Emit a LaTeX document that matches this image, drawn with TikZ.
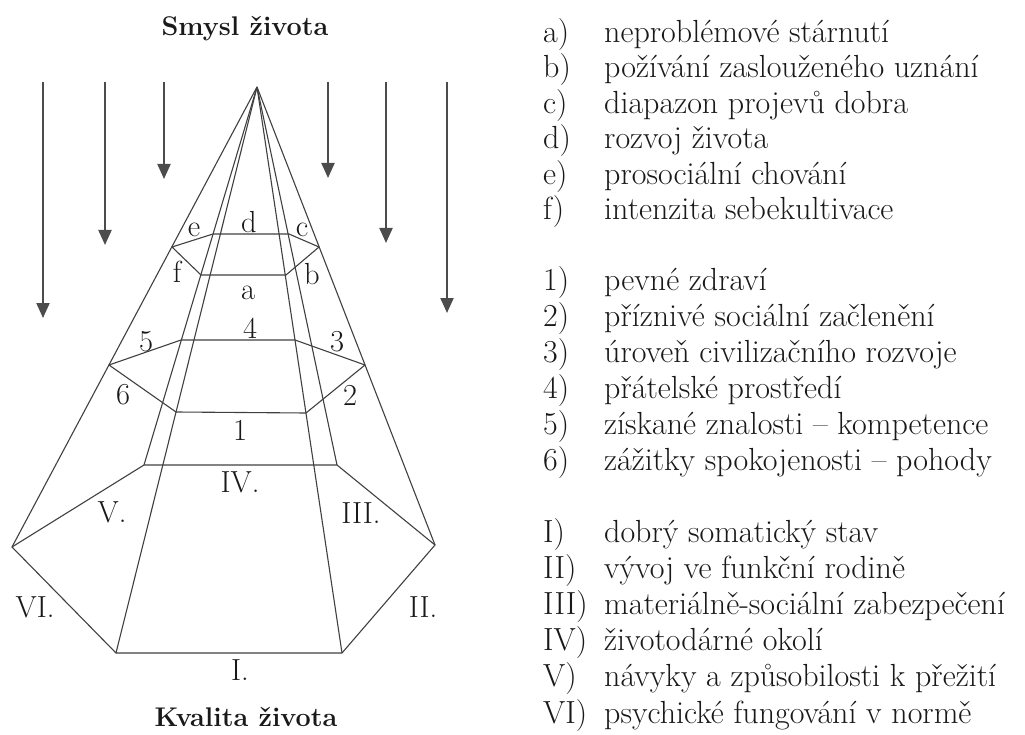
\documentclass[tikz,border=0pt]{standalone}
\usepackage{tikz}
\usetikzlibrary{arrows.meta}
\begin{document}
\begin{tikzpicture}[
    x=1pt, y=-1pt,
    edge/.style={draw=black!75, line width=1.1pt, line join=round},
    flow/.style={draw=black!70, line width=2pt, -{Triangle[width=13pt,length=15pt]}},
    lbl/.style={inner sep=0pt, text=black!90, font=\fontsize{30.5}{34}\selectfont},
    title/.style={inner sep=0pt, text=black!90, font=\fontsize{27}{30}\selectfont\bfseries},
    item/.style={inner sep=0pt, anchor=base west, text=black!90, font=\fontsize{32}{36}\selectfont}
]
    \useasboundingbox (0,0) rectangle (1025,735);

    % Titles
    \node[title] (smysl) at (245,29) {Smysl života};
    \node[title] (kvalita) at (246,717) {Kvalita života};

    % Arrows from above
    \foreach \x/\y [count=\i] in {43/318, 105/245, 164/179, 328/178, 386/243, 447/313} {
        \coordinate (top\i) at (\x,82);
        \coordinate (tip\i) at (\x,\y);
        \draw[flow] (top\i) -- (tip\i);
    }

    % Apex and the three levels
    \coordinate (apex) at (257,87);

    \coordinate (h1l)  at (172,247);
    \coordinate (h1ul) at (213,234);
    \coordinate (h1ur) at (289,234);
    \coordinate (h1r)  at (319,247);
    \coordinate (h1lr) at (286,275);
    \coordinate (h1ll) at (201,275);

    \coordinate (h2l)  at (109,365);
    \coordinate (h2ul) at (181,340);
    \coordinate (h2ur) at (295,340);
    \coordinate (h2r)  at (365,365);
    \coordinate (h2lr) at (306,413);
    \coordinate (h2ll) at (176,412);

    \coordinate (h3l)  at (12,547);
    \coordinate (h3ul) at (144,465);
    \coordinate (h3ur) at (337,465);
    \coordinate (h3r)  at (435,545);
    \coordinate (h3lr) at (342,653);
    \coordinate (h3ll) at (116,653);

    % Edges from the apex
    \foreach \v in {h3l, h3ul, h3ll, h3lr, h3ur, h3r}
        \draw[edge] (apex) -- (\v);

    % Hexagons
    \draw[edge] (h1l) -- (h1ul) -- (h1ur) -- (h1r) -- (h1lr) -- (h1ll) -- cycle;
    \draw[edge] (h2l) -- (h2ul) -- (h2ur) -- (h2r) -- (h2lr) -- (h2ll) -- cycle;
    \draw[edge] (h3l) -- (h3ul) -- (h3ur) -- (h3r) -- (h3lr) -- (h3ll) -- cycle;

    % Labels in the pyramid
    \node[lbl] (le) at (194,230) {e};
    \node[lbl] (ld) at (249,222) {d};
    \node[lbl] (lc) at (302,230) {c};
    \node[lbl] (lf) at (177,272) {f};
    \node[lbl] (lb) at (312,274) {b};
    \node[lbl] (la) at (248,293) {a};
    \node[lbl] (l4) at (250,328) {4};
    \node[lbl] (l5) at (146,342) {5};
    \node[lbl] (l3) at (337,342) {3};
    \node[lbl] (l6) at (123,395) {6};
    \node[lbl] (l2) at (350,395) {2};
    \node[lbl] (l1) at (240,430) {1};
    \node[lbl] (lIV) at (240,482) {IV.};
    \node[lbl] (lV) at (112,512) {V.};
    \node[lbl] (lIII) at (361,513) {III.};
    \node[lbl] (lVI) at (35,607) {VI.};
    \node[lbl] (lII) at (423,607) {II.};
    \node[lbl] (lI) at (240,670) {I.};

    % Legend
    \foreach \k/\txt [count=\i from 0] in {a)/neproblémové stárnutí, b)/požívání zaslouženého uznání, c)/diapazon projevů dobra, d)/rozvoj života, e)/prosociální chování, f)/intenzita sebekultivace} {
        \node[item] (ka\i) at (543,42.5+35.4*\i) {\k};
        \node[item] (ta\i) at (604,42.5+35.4*\i) {\txt};
    }
    \foreach \k/\txt [count=\i from 0] in {1)/pevné zdraví, 2)/příznivé sociální začlenění, 3)/úroveň civilizačního rozvoje, 4)/přátelské prostředí, 5)/získané znalosti -- kompetence, 6)/zážitky spokojenosti -- pohody} {
        \node[item] (kn\i) at (543,290.5+36*\i) {\k};
        \node[item] (tn\i) at (604,290.5+36*\i) {\txt};
    }
    \foreach \k/\txt [count=\i from 0] in {I)/dobrý somatický stav, II)/vývoj ve funkční rodině, III)/materiálně-sociální zabezpečení, IV)/životodárné okolí, V)/návyky a způsobilosti k přežití, VI)/psychické fungování v normě} {
        \node[item] (kr\i) at (543,542.5+36.1*\i) {\k};
        \node[item] (tr\i) at (604,542.5+36.1*\i) {\txt};
    }
\end{tikzpicture}
\end{document}
